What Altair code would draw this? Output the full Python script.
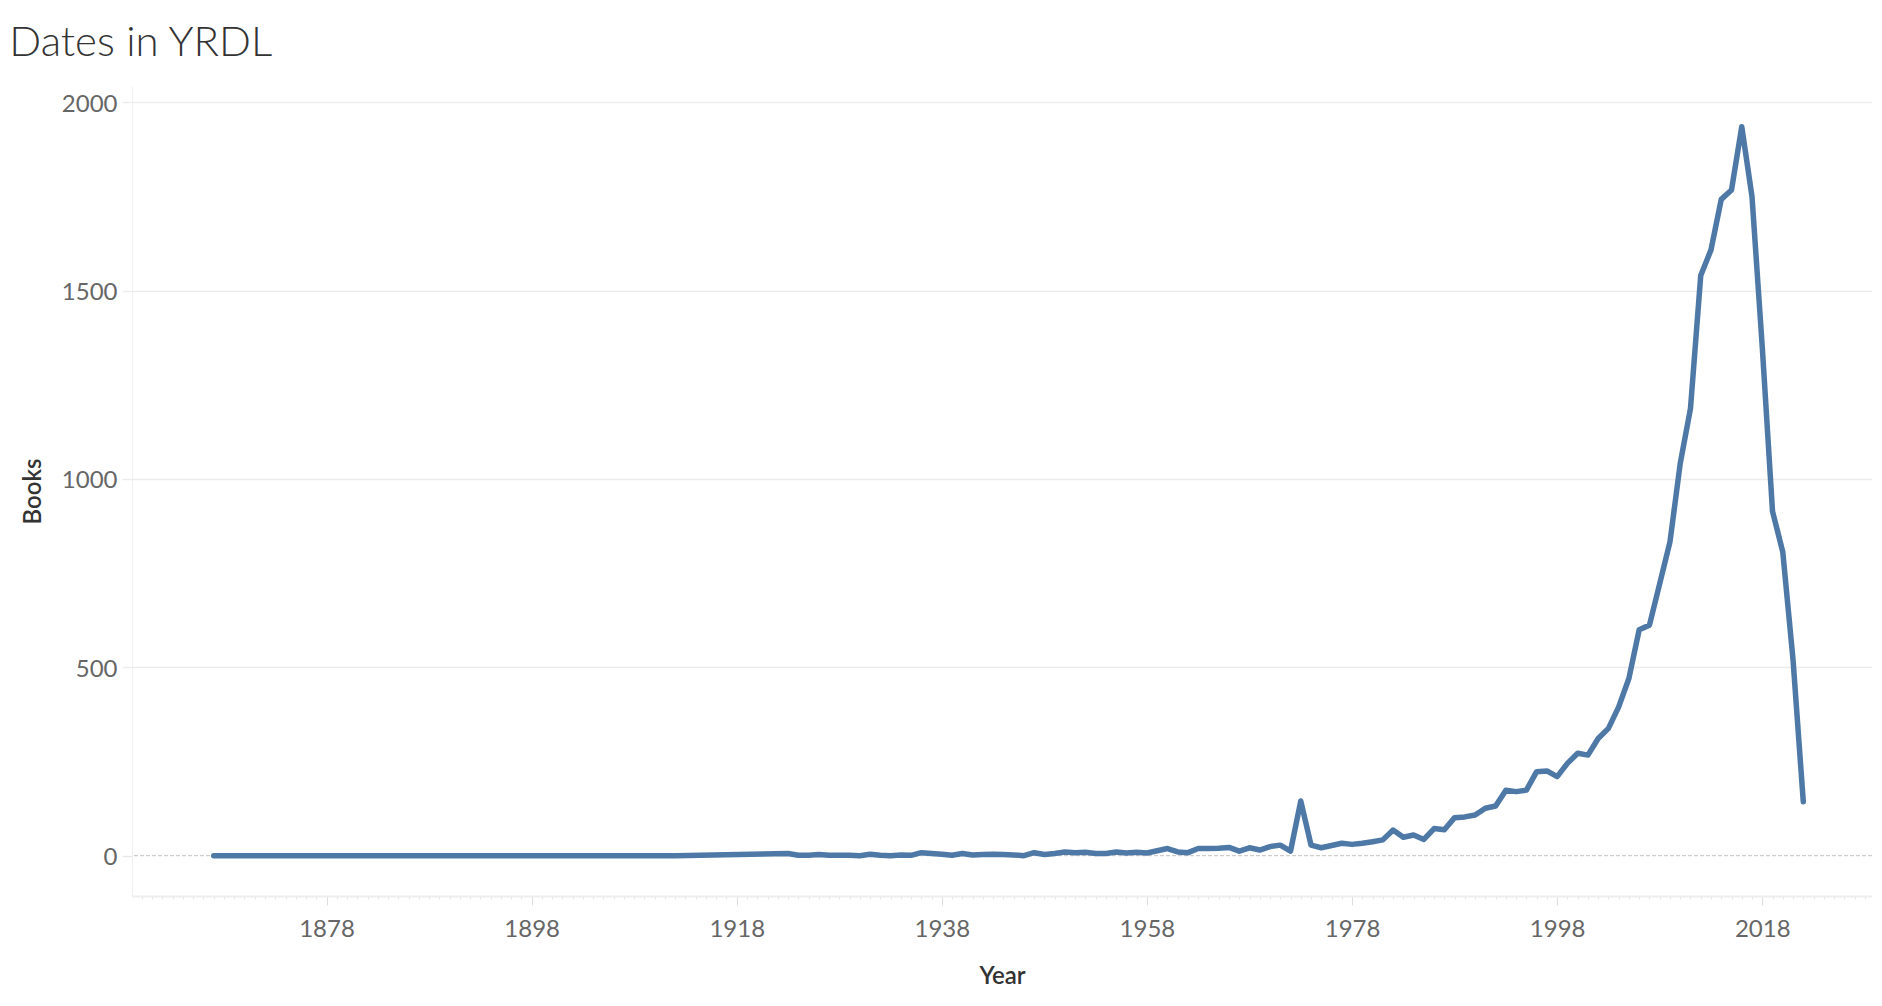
import altair as alt
import pandas as pd

years = [1867, 1912, 1923, 1924, 1925, 1926, 1927, 1928, 1929, 1930,
         1931, 1932, 1933, 1934, 1935, 1936, 1937, 1938, 1939, 1940,
         1941, 1942, 1943, 1944, 1945, 1946, 1947, 1948, 1949, 1950,
         1951, 1952, 1953, 1954, 1955, 1956, 1957, 1958, 1959, 1960,
         1961, 1962, 1963, 1964, 1965, 1966, 1967, 1968, 1969, 1970,
         1971, 1972, 1973, 1974, 1975, 1976, 1977, 1978, 1979, 1980,
         1981, 1982, 1983, 1984, 1985, 1986, 1987, 1988, 1989, 1990,
         1991, 1992, 1993, 1994, 1995, 1996, 1997, 1998, 1999, 2000,
         2001, 2002, 2003, 2004, 2005, 2006, 2007, 2008, 2009, 2010,
         2011, 2012, 2013, 2014, 2015, 2016, 2017, 2018, 2019, 2020,
         2021, 2022]
books = [0, 0, 6, 1, 1, 3, 1, 1, 1, 0,
         4, 1, 0, 2, 1, 8, 6, 4, 1, 6,
         2, 3, 4, 3, 2, 0, 8, 3, 6, 10,
         8, 9, 6, 6, 10, 7, 9, 7, 13, 19,
         10, 8, 19, 19, 20, 22, 12, 21, 15, 24,
         28, 12, 145, 28, 21, 27, 33, 30, 33, 37,
         42, 68, 49, 55, 43, 72, 69, 101, 103, 108,
         126, 132, 174, 170, 174, 223, 225, 210, 245, 272,
         267, 311, 338, 395, 471, 600, 612, 722, 833, 1041,
         1187, 1540, 1608, 1742, 1767, 1935, 1749, 1350, 914, 806,
         520, 143]

y_ticks = [0, 500, 1000, 1500, 2000]
x_tick_years = list(range(1859, 2029))

df = pd.DataFrame({"Year": years, "Books": books})
zero_df = pd.DataFrame({"Books": [0]})

FONT = "Lato"
major = "(datum.value - 1878) % 20 == 0"

x_enc = alt.X(
    "Year:Q",
    scale=alt.Scale(domain=[1859.03, 2028.7], nice=False, zero=False),
    axis=alt.Axis(
        values=x_tick_years,
        format="d",
        labelExpr=f"{major} ? datum.label : ''",
        labelOverlap=False,
        labelBound=False,
        labelFlush=False,
        grid=False,
        tickSize={"condition": {"test": major, "value": 9}, "value": 3},
        tickColor={"condition": {"test": major, "value": "#dddddd"}, "value": "#e4e4e4"},
        tickWidth=1,
        domainColor="#eeeeee",
        domainWidth=2,
        labelFont=FONT,
        labelFontSize=24,
        labelColor="#666666",
        labelPadding=12,
        title="Year",
        titleFont=FONT,
        titleFontSize=24,
        titleFontWeight=600,
        titleColor="#333333",
        titlePadding=23,
    ),
)

y_enc = alt.Y(
    "Books:Q",
    scale=alt.Scale(domain=[-107, 2043], nice=False, zero=False),
    axis=alt.Axis(
        values=y_ticks,
        format="d",
        grid=True,
        gridColor={"condition": {"test": "datum.value == 0", "value": "transparent"}, "value": "#ececec"},
        gridWidth=1.5,
        tickSize=10,
        tickColor={"condition": {"test": "datum.value == 0", "value": "#e8e8e8"}, "value": "#ececec"},
        tickWidth=1.5,
        domainColor="#f0f0f0",
        domainWidth=1,
        labelFont=FONT,
        labelFontSize=24,
        labelColor="#666666",
        labelPadding=5,
        labelOffset=2,
        title="Books",
        titleFont=FONT,
        titleFontSize=24,
        titleFontWeight=600,
        titleColor="#333333",
        titlePadding=16,
    ),
)

zero_rule = alt.Chart(zero_df).mark_rule(
    color="#c2c2c2", strokeDash=[4, 2], strokeWidth=1
).encode(y=y_enc)

line = alt.Chart(df).mark_line(
    color="#4e79a7", strokeWidth=5.5, strokeCap="round", strokeJoin="round"
).encode(x=x_enc, y=y_enc)

chart = alt.layer(zero_rule, line).properties(
    width=1740,
    height=810,
    title=alt.TitleParams(
        "Dates in YRDL",
        anchor="start",
        font=FONT,
        fontWeight=300,
        fontSize=42,
        color="#333333",
        dx=-12,
        dy=42,
        offset=30,
        baseline="alphabetic",
    ),
    autosize=alt.AutoSizeParams(type="none"),
    padding={"left": 124, "top": 78, "right": 0, "bottom": 100},
    background="white",
).configure_view(stroke=None)

chart.save("out.html", embed_options={"renderer": "svg", "actions": False})
